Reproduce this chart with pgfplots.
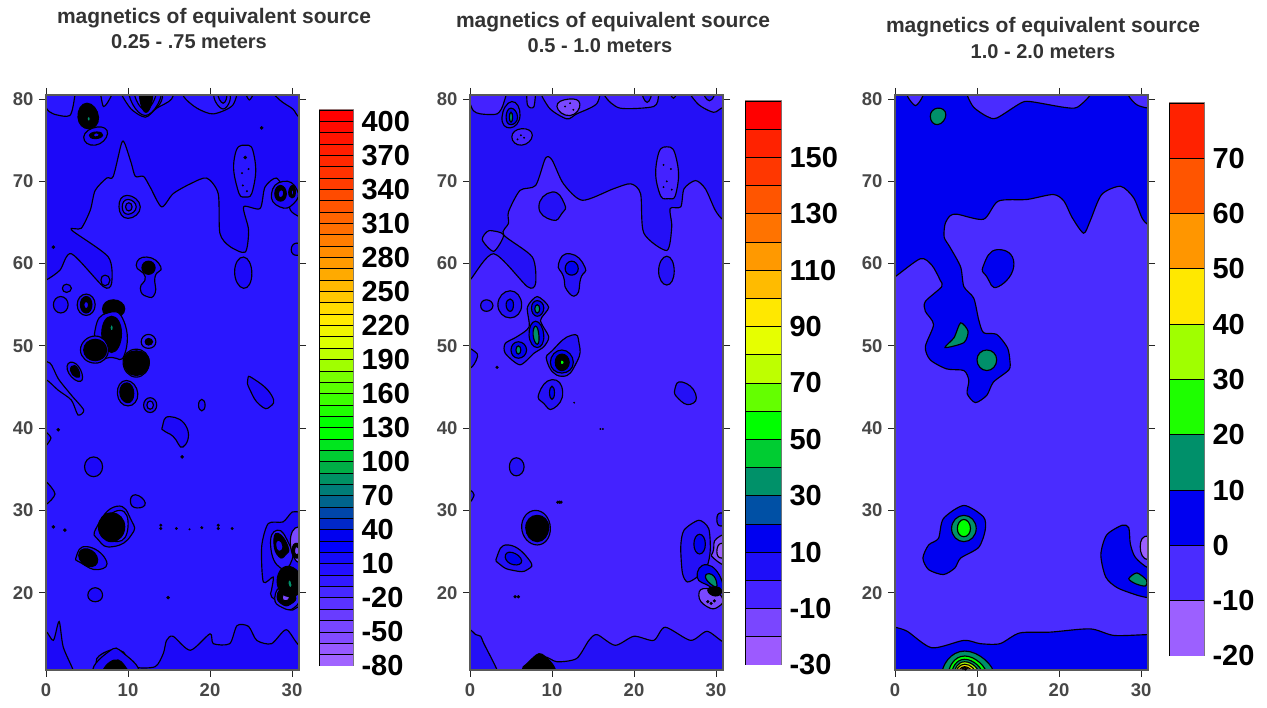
\documentclass[border=0pt]{standalone}
\usepackage{fontspec}
\setmainfont{Liberation Sans}
\usepackage{pgfplots}
\pgfplotsset{compat=1.18}
\definecolor{lav}{HTML}{9C60FF}
\definecolor{mid}{HTML}{7A48FF}
\definecolor{pureb}{HTML}{0000F0}
\definecolor{teal2}{HTML}{00906A}
\definecolor{grn}{HTML}{00FF00}
\definecolor{main3}{HTML}{4A2CFF}
\definecolor{main2}{HTML}{4422FF}
\definecolor{top2}{HTML}{2410F6}
\definecolor{main1}{HTML}{2A16FF}
\definecolor{top1}{HTML}{1C08F8}
\newcommand{\reg}[2]{\addplot[smooth cycle,tension=0.45,draw=black,line width=1.15pt,fill=#1] coordinates {#2};}
\newcommand{\blob}[2]{\addplot[smooth cycle,tension=1,draw=black,line width=1.15pt,fill=#1] coordinates {#2};}
\newcommand{\cb}[5]{\addplot[fill={rgb,255:red,#3;green,#4;blue,#5},draw=black,line width=0.9pt] coordinates {(0,#1)(1,#1)(1,#2)(0,#2)(0,#1)};}
\pgfplotsset{
 panel/.style={scale only axis,width=253pt,height=575pt,anchor=south west,
  xmin=0,xmax=30.85,ymin=10.6,ymax=80.5,
  xtick={0,10,20,30},xticklabels={0,10,20,30},
  ytick={20,30,40,50,60,70,80},yticklabels={20,30,40,50,60,70,80},
  tick align=outside,xtick pos=both,ytick pos=both,
  xticklabel pos=bottom,yticklabel pos=left,
  major tick length=7pt,
  every tick/.style={black!85,line width=0.9pt},
  axis line style={black!65,line width=1.2pt},
  xticklabel style={yshift=-3pt},yticklabel style={xshift=-2pt},
  ticklabel style={font=\fontsize{18.5}{18.5}\selectfont\bfseries,text=black!72},
  axis on top},
 bar/.style={scale only axis,anchor=south west,xmin=0,xmax=1,xtick=\empty,
  yticklabel pos=right,ytick pos=right,major tick length=0pt,
  axis line style={black!45,line width=1pt},
  yticklabel style={xshift=5pt},
  ticklabel style={font=\fontsize{29}{29}\selectfont\bfseries,text=black}},
 specks/.style={only marks,mark=*,mark size=#1,black,mark options={draw=black,fill=black}},
}
\begin{document}
\begin{tikzpicture}[x=1pt,y=1pt]
\path[use as bounding box] (0,0) rectangle (1267,708);
\begin{scope}[text=black!80]
\node[font=\fontsize{21}{21}\selectfont\bfseries] at (214,690) {magnetics of equivalent source};
\node[font=\fontsize{20}{20}\selectfont\bfseries] at (189,666) {0.25 - .75 meters};
\node[font=\fontsize{21}{21}\selectfont\bfseries] at (613,686) {magnetics of equivalent source};
\node[font=\fontsize{20}{20}\selectfont\bfseries] at (600,662) {0.5 - 1.0 meters};
\node[font=\fontsize{21}{21}\selectfont\bfseries] at (1043,681) {magnetics of equivalent source};
\node[font=\fontsize{20}{20}\selectfont\bfseries] at (1043,656) {1.0 - 2.0 meters};
\end{scope}

% ---------- panel 1
\begin{axis}[panel,at={(46pt,38pt)},axis background/.style={fill=top1}]
\reg{main1}{(-1,58)(0,58)(1.7,59.2)(3.1,61.2)(7,57.2)(8,57.6)(7.6,60.8)(3.1,64.1)(4.3,64.3)(5.4,66.5)(6,68.9)(7.4,70.4)(8.2,70.6)(9.2,74.6)(9.6,74.6)(10.4,72.2)(10.9,70.6)(11.9,70.6)(12.7,69.3)(14.1,66.9)(15.5,68.5)(17.6,69.7)(19.6,70.4)(21,68.5)(21.2,63.7)(22.4,62.1)(24.3,61.4)(24.7,64.1)(24.1,66.9)(26.1,66.7)(26.7,69.3)(28.1,70.4)(29.3,68.5)(29.8,66.5)(30.9,65.7)(33,65)(33,14)(30.9,13.6)(29.3,15.5)(27.5,13.8)(25.7,14.2)(24.7,15.9)(23.3,16)(22.4,13.8)(20.4,13.8)(20,15)(17.6,13)(15.5,14.7)(14.7,14.2)(14.3,12.6)(13.3,11)(10.7,11)(9.4,12.8)(7.8,13)(6.2,12)(6,9.5)(3.3,9.5)(3.3,10.6)(2.1,13.4)(1.6,16.5)(.9,14.2)(0,15.3)(-1,15)}
% top edge lobes
\reg{main1}{(-1,82)(0,79)(.9,78.2)(2.9,78)(3.5,80.3)(3.6,82)}
\reg{main1}{(6.6,82)(7,79.1)(8,80.5)(8.1,82)}
\reg{main1}{(9,82)(10.2,79)(12.1,77.8)(13.5,78.9)(15.3,80)(15.4,82)}
\reg{main1}{(16.7,82)(16.8,80.3)(18.4,78.9)(20.4,78.2)(22.8,79.3)(23,82)}
\reg{main1}{(24.1,81.5)(24.8,79.9)(25.6,81.5)}
\reg{main1}{(26.9,82)(28.5,79.9)(30.1,78.8)(30.9,77.8)(33,77.5)(33,82)}
\blob{top1}{(12.8,80.5)(13.2,78.9)(14.2,80.2)(13.5,81)}
% rings top
\blob{main1}{(20.5,80.6)(21.6,78.8)(22.4,80.6)}
\blob{top1}{(21,80.6)(21.6,79.5)(22,80.6)}
\blob{top1}{(10.2,81.5)(12.1,78)(14,81.5)}
\blob{main1}{(10.8,81.5)(12.1,78.7)(13.4,81.5)}
\blob{black}{(11.4,80.5)(12.2,78.4)(13,80.5)(12.2,81)}
\blob{black}{(3.9,77.8)(5,79.5)(6.4,77.8)(5.2,76.4)}
\blob{teal2}{(5,77.6)(5.2,77.9)(5.4,77.6)(5.2,77.3)}
\blob{top1}{(4.6,75.4)(6.2,76.6)(7.5,75.8)(6,74.4)}
\blob{black}{(5.3,75.6)(6.2,76)(6.9,75.6)(6,75.2)}
\blob{top1}{(5.8,75.7)(6.2,75.9)(6.5,75.6)(6,75.4)}
\blob{main1}{(23,73)(24.3,74.4)(25.4,73)(25.3,69.3)(24.3,68.1)(23.3,69.3)}
\blob{top1}{(8.9,66.9)(9.9,68.3)(11.5,66.9)(10,65.5)}
\blob{main1}{(9.3,66.9)(10,67.8)(11,66.9)(10,66)}
\blob{top1}{(9.7,66.9)(10.1,67.4)(10.5,66.9)(10.1,66.4)}
\blob{top1}{(27.5,68.5)(28.9,70)(30.6,69)(30.2,67.3)(28.5,66.9)}
\blob{black}{(27.9,68.5)(28.6,69.5)(29.3,68.5)(28.6,67.6)}
\blob{top1}{(28.3,68.5)(28.7,69)(29,68.5)(28.6,68)}
\blob{black}{(29.6,68.7)(30.1,69.5)(30.4,68.6)(30,68)}
\blob{top1}{(29.9,68.7)(30.1,69)(30.2,68.6)(30,68.3)}
\blob{top1}{(11,59.8)(12.3,60.8)(14,59.6)(13.3,58.4)(13.3,56.4)(12.3,56)(11.5,57)(12.1,58.4)}
\blob{black}{(11.7,59.5)(12.5,60.3)(13.3,59.5)(12.5,58.7)}
\blob{top1}{(23,59)(24.1,60.8)(25.1,58.8)(24.1,57)}
\blob{top1}{(29.9,61.7)(30.6,62.5)(31.5,61.7)(30.6,61)}
\blob{top1}{(6.7,58)(7.2,58.6)(7.8,58)(7.2,57.3)}
\blob{top1}{(2,57)(2.5,57.5)(3.1,57)(2.5,56.5)}
\blob{top1}{(.9,55)(1.8,56)(2.7,55)(1.8,54)}
\blob{top1}{(3.8,55)(4.9,56.3)(6,55)(4.9,53.7)}
\blob{black}{(4.2,55)(4.9,56)(5.6,55)(4.9,54)}
\blob{top1}{(4.6,55)(4.9,55.4)(5.2,55)(4.9,54.5)}
\blob{black}{(6.9,54.5)(8.2,55.6)(9.6,54.5)(8.2,53.4)}
\blob{top1}{(6,52)(7.5,54)(9.5,53)(9.6,49)(8,48.6)(6.5,49)}
\blob{black}{(6.8,51.5)(8,53.6)(9.2,51.5)(8,49.2)}
\blob{teal2}{(7.8,52.2)(8,52.6)(8.2,52.2)(8,51.8)}
\blob{top1}{(4.2,49.5)(6,51.2)(7.6,49.5)(6,47.9)}
\blob{black}{(4.6,49.5)(6,50.8)(7.4,49.5)(6,48.2)}
\blob{main1}{(11.6,50.5)(12.5,51.4)(13.4,50.5)(12.5,49.7)}
\blob{black}{(12.1,50.5)(12.5,50.9)(13,50.5)(12.5,50.1)}
\blob{top1}{(9.4,48)(11,49.6)(12.6,48)(11,46.2)}
\blob{black}{(9.5,48)(11,49.4)(12.6,48)(11,46.4)}
\reg{main1}{(-1,48)(.5,47.9)(1.5,46)(3.1,44)(4.6,42.2)(3.9,41.6)(3.1,43.4)(1.5,44.6)(0,45.9)(-1,45.5)}
\blob{top1}{(2.6,47.1)(3.3,48)(4.4,46.6)(3.9,45.7)}
\blob{black}{(3,47)(3.5,47.6)(4.1,46.6)(3.7,46.2)}
\blob{top1}{(8.7,44.2)(9.8,45.8)(11.2,44.2)(10,42.7)}
\blob{black}{(9,44.4)(9.9,45.5)(10.7,44.2)(9.9,43.1)}
\blob{top1}{(11.9,42.8)(12.7,43.7)(13.5,42.8)(12.7,41.9)}
\blob{main1}{(12.3,42.8)(12.7,43.3)(13.1,42.8)(12.7,42.3)}
\blob{top1}{(18.6,42.8)(19,43.5)(19.4,42.8)(19,42.1)}
\blob{top1}{(24.6,45.9)(25.3,46)(27.5,44)(27.3,42.6)(26.1,42.8)(24.9,44.6)}
\blob{top1}{(14.2,40.2)(15.1,41.4)(17.2,40)(16.7,37.7)(15.5,39)(14.5,39.6)}
\blob{top1}{(4.7,35.3)(5.8,36.5)(6.9,35.3)(5.8,34.1)}
\reg{top1}{(-1,33.5)(0,33.5)(1.1,32)(0,30.7)(-1,30.7)}
\reg{top1}{(-1,40)(.6,38.8)(-1,37)}
\blob{top1}{(10.3,31)(10.9,31.9)(12.1,30.9)(11.1,30.3)}
\blob{top1}{(6.2,28)(8.6,30.5)(10.4,28.8)(10.4,27)(8.2,25.6)(6.4,26.4)}
\blob{main1}{(7,28)(9,30)(10,28)(8.7,26.2)}
\blob{black}{(6.4,28)(8,29.7)(9.6,28)(8,26.2)}
\blob{top1}{(3.7,24.4)(5,25.6)(7.3,24)(6.4,22.8)(4.3,23.6)}
\blob{black}{(4,24.5)(5.1,25.3)(6.3,24)(5.2,23.2)}
\blob{top1}{(5.1,19.7)(6,20.6)(6.9,19.7)(6,18.9)}
% right clusters
\reg{top1}{(26.3,25.6)(27.1,28.4)(28.9,28.6)(30,29.8)(30.9,29.8)(33,30)(33,18)(30.9,18.3)(29.8,17.9)(27.5,19.5)(27.5,20.3)(27.7,21.9)(26.5,21.3)}
\blob{main1}{(27.4,25.6)(28.2,27.6)(29.6,26)(30,24)(28.6,23)}
\blob{black}{(27.8,26)(28.3,27.2)(29.5,25.6)(29.2,24.6)(28.4,24.4)}
\blob{top1}{(28,25.8)(28.4,26.4)(28.9,25.6)(28.4,25)}
\blob{mid}{(29.8,26)(30.8,28)(32,26)(31,23.6)}
\blob{black}{(30,25.2)(30.6,26)(31.2,25)(30.5,24.2)}
\blob{mid}{(30.3,25.2)(30.6,25.6)(30.9,25)(30.5,24.6)}
\blob{main1}{(27.9,19.4)(29,20.8)(30.8,19.8)(30.3,18.2)(28.8,18.2)}
\blob{black}{(28.2,19.6)(29,20.4)(30.4,19.6)(29.8,18.6)(28.8,18.6)}
\blob{mid}{(28.8,19.4)(29.2,19.9)(29.7,19.4)(29.2,19)}
\blob{black}{(28.2,21.2)(29.5,23.2)(31.3,21.2)(29.8,19.5)}
\blob{teal2}{(29.5,21.1)(29.7,21.6)(30,21)(29.8,20.6)}
% bottom dome
\blob{top1}{(6,10)(7.6,12.8)(9.5,12.6)(11,10)}
\blob{black}{(7,10)(8.3,11.8)(9.8,10.8)(9.6,10)}
% specks
\addplot[specks=1.6pt] coordinates {(.9,62)(26.3,76.5)(24.3,72.9)(3.7,47)(1.5,39.8)(16.6,36.5)(14.9,19.4)(.9,28)(2.3,27.6)};
\addplot[specks=1.3pt] coordinates {(14,27.8)(14,28.2)(21,27.8)(21,28.2)(15.9,27.8)(22.7,27.8)(19,27.9)};
\addplot[specks=0.8pt] coordinates {(17.5,27.7)(24,69.5)(23.9,71)(24.5,68.8)(24.7,71.5)};
\end{axis}

% bar 1
\begin{axis}[bar,at={(319pt,42pt)},width=34pt,height=556pt,ymin=-80,ymax=410,
 ytick={-80,-50,-20,10,40,70,100,130,160,190,220,250,280,310,340,370,400},
 yticklabels={-80,-50,-20,10,40,70,100,130,160,190,220,250,280,310,340,370,400}]
\cb{-80}{-70}{160}{100}{255}\cb{-70}{-60}{150}{90}{255}\cb{-60}{-50}{130}{75}{255}\cb{-50}{-40}{120}{70}{255}
\cb{-40}{-30}{105}{60}{255}\cb{-30}{-20}{90}{50}{255}\cb{-20}{-10}{70}{40}{255}\cb{-10}{0}{50}{25}{255}
\cb{0}{10}{35}{15}{255}\cb{10}{20}{20}{10}{250}\cb{20}{30}{0}{0}{255}\cb{30}{40}{0}{0}{240}
\cb{40}{50}{0}{40}{200}\cb{50}{60}{0}{70}{170}\cb{60}{70}{0}{100}{140}\cb{70}{80}{0}{125}{120}
\cb{80}{90}{0}{145}{100}\cb{90}{100}{0}{175}{70}\cb{100}{110}{0}{205}{50}\cb{110}{120}{0}{230}{30}
\cb{120}{130}{0}{255}{0}\cb{130}{140}{0}{255}{0}\cb{140}{150}{30}{255}{0}\cb{150}{160}{60}{255}{0}
\cb{160}{170}{90}{255}{0}\cb{170}{180}{120}{255}{0}\cb{180}{190}{160}{255}{0}\cb{190}{200}{190}{255}{0}
\cb{200}{210}{220}{255}{0}\cb{210}{220}{240}{245}{0}\cb{220}{230}{255}{235}{0}\cb{230}{240}{255}{220}{0}
\cb{240}{250}{255}{200}{0}\cb{250}{260}{255}{185}{0}\cb{260}{270}{255}{170}{0}\cb{270}{280}{255}{155}{0}
\cb{280}{290}{255}{140}{0}\cb{290}{300}{255}{125}{0}\cb{300}{310}{255}{110}{0}\cb{310}{320}{255}{100}{0}
\cb{320}{330}{255}{85}{0}\cb{330}{340}{255}{75}{0}\cb{340}{350}{255}{60}{0}\cb{350}{360}{255}{50}{0}
\cb{360}{370}{255}{40}{0}\cb{370}{380}{255}{30}{0}\cb{380}{390}{255}{20}{0}\cb{390}{400}{255}{10}{0}
\cb{400}{410}{255}{0}{0}
\end{axis}

% ---------- panel 2
\begin{axis}[panel,at={(470pt,38pt)},axis background/.style={fill=top2}]
\reg{main2}{(-1,57.5)(0,58)(2.9,61.2)(7,57.2)(8,57.6)(7.6,60.8)(4.1,63.5)(4.7,64.9)(4.7,66.3)(6.1,68.9)(8,69.5)(9.2,72.8)(10,72.6)(11.4,69.7)(13.7,67.7)(17.5,69.1)(19.6,69.7)(20.8,68.5)(21.2,63.7)(24,61.6)(24.6,64.5)(24.4,66.7)(25.7,66.9)(26.1,69.1)(27.5,70.1)(28.7,69.1)(29.9,66.5)(30.9,65.3)(33,64.5)(33,13.5)(30.9,14)(28.9,15.3)(26.9,14.2)(23.8,15.8)(22.4,14.2)(20,14.7)(17.7,13.6)(15.5,14.9)(14.5,14.2)(13,12)(10.6,11.6)(9,12.2)(6.5,11)(6.3,9.5)(3.3,9.5)(3.3,10.6)(1.7,13.8)(1.3,14.7)(.7,14.9)(0,15.5)(-1,15.5)}
\reg{main2}{(1.5,62.9)(2.3,64)(4.1,63.5)(2.9,61.5)}
\reg{main2}{(-1,82)(-.2,80)(.4,78.6)(1.3,78.2)(3.3,78.2)(4.1,79.5)(4.3,82)}
\reg{main2}{(7,82)(7,79.3)(7.8,79.1)(8,82)}
\reg{main2}{(8.6,82)(9.6,79)(11.8,77.6)(13,78.2)(15.5,79.5)(15.4,82)}
\reg{main2}{(16.4,82)(16.5,80.3)(18.3,78.9)(22.4,79.1)(23,80.5)(23,82)}
\reg{main2}{(24.1,81.5)(24.8,80.1)(25.6,81.5)}
\reg{main2}{(26.5,82)(27.7,79.5)(29.7,78.4)(30.9,79)(33,79)(33,82)}
\blob{mid}{(10.6,79.1)(12,80)(13.4,79.4)(12.2,78)}
\blob{top2}{(21,81)(21.6,79.6)(22.1,81)}
\blob{top2}{(28.5,81)(29.2,79.8)(29.8,81)}
\blob{main2}{(22.8,72.6)(24,74.2)(25.2,72.6)(25.2,68.9)(24.2,67.9)(23,68.9)}
\blob{main2}{(5.1,75.4)(6.3,76.4)(7.6,75.6)(6.3,74.4)}
\blob{top2}{(3.9,77.8)(5.1,79.7)(6.1,78)(4.9,76.5)}
\blob{pureb}{(4.4,77.8)(5,78.9)(5.8,77.8)(5,76.9)}
\blob{teal2}{(4.8,77.8)(5,78.4)(5.2,77.8)(5,77.2)}
\blob{top2}{(8.4,66.9)(10,68.7)(11.5,67.3)(11.2,66.1)(10,65.3)}
\blob{top2}{(10.8,60)(12.2,61.2)(14,59.6)(13.5,58.2)(13,56.2)(11.8,56.8)(11.4,58.4)}
\blob{pureb}{(11.6,59.4)(12.4,60.3)(13.2,59.4)(12.4,58.6)}
\blob{top2}{(23,59.1)(24,60.9)(24.9,59.1)(24,57.4)}
\blob{top2}{(3.4,55)(4.9,56.7)(6.3,55)(4.9,53.4)}
\blob{pureb}{(4.4,55)(4.9,55.7)(5.3,55)(4.9,54.2)}
\blob{top2}{(1.3,54.9)(2,55.6)(2.8,54.9)(2,54.2)}
\reg{top2}{(7,54.7)(8.2,56)(9.6,54.7)(8.6,53.1)(9.6,51.1)(9,49.9)(7.8,49.1)(6.1,47.7)(4.3,49.1)(4.3,50.3)(5.7,51.1)(7.2,52.3)}
\blob{pureb}{(7.5,54.6)(8.2,55.5)(9,54.6)(8.2,53.6)}
\blob{teal2}{(7.9,54.5)(8.2,55)(8.5,54.5)(8.2,54)}
\blob{pureb}{(7.2,51.3)(8,53)(9,51.3)(8.2,49.8)}
\blob{teal2}{(7.7,51.3)(8,52.4)(8.4,51.3)(8.2,50.2)}
\blob{pureb}{(5,49.5)(5.9,50.5)(6.9,49.5)(5.9,48.5)}
\blob{teal2}{(5.6,49.5)(5.9,50)(6.2,49.5)(5.9,49)}
\blob{top2}{(9.4,48.1)(10.2,49.6)(12.4,51.3)(13.3,50.3)(13,48)(11.2,46.3)}
\blob{pureb}{(9.8,48)(11.2,49.5)(12.6,48)(11.2,46.7)}
\blob{black}{(10.4,48)(11.2,49)(12.1,48)(11.2,47)}
\blob{grn}{(11,48)(11.2,48.3)(11.5,48)(11.2,47.7)}
\blob{top2}{(8.4,44.2)(10,45.9)(11.3,44.4)(10.2,42.4)(9,43)}
\blob{pureb}{(9.7,44.3)(10,45.1)(10.3,44.3)(10,43.5)}
\blob{top2}{(25,44.8)(25.9,45.6)(27.5,44.2)(26.9,42.9)(25.4,43.6)}
\blob{top2}{(4.8,35.3)(5.65,36.4)(6.6,35.3)(5.65,34.2)}
\reg{top2}{(-1,32.5)(0,32.5)(.5,31.9)(0,31)(-1,31)}
\reg{top2}{(-1,50)(.9,49)(.3,47.5)(-1,47)}
\blob{top2}{(6.3,27.9)(8,30)(9.8,27.9)(8.2,25.8)}
\blob{black}{(6.8,27.9)(8.2,29.4)(9.6,27.9)(8.2,26.2)}
\blob{top2}{(3.3,24.4)(4.7,25.8)(7.2,24)(7,22.8)(5.3,22.7)(3.7,23.4)}
\blob{pureb}{(4.3,24.3)(5.1,24.9)(6.3,23.9)(5.3,23.4)}
\reg{top2}{(25.7,25.6)(26.1,27.6)(27.9,28.8)(29.1,27.8)(29.3,25.2)(28.9,23.2)(27.7,21.9)(26.5,21.3)(25.9,22.4)}
\blob{pureb}{(27.3,25.9)(28,27.1)(28.7,25.9)(28,24.7)}
\blob{pureb}{(27.7,21.9)(28.9,23.4)(30.7,21.5)(30.3,19.9)(29.3,20.7)}
\blob{teal2}{(28.7,21.9)(29.5,22.2)(30.1,21.1)(29.7,20.8)}
\blob{mid}{(27.9,19.7)(28.9,20.5)(30.7,19.5)(30.3,18.3)(28.9,18.3)}
\blob{black}{(29,20.3)(29.9,20.7)(30.7,20.2)(29.9,19.6)}
\blob{mid}{(29.7,25.2)(30.1,26.6)(31.6,26.6)(31.6,23.6)(29.7,24.2)}
\blob{lav}{(30.1,25)(30.7,26)(31.6,25)(30.7,24.2)}
\blob{top2}{(30.1,28.9)(30.6,29.7)(31.5,28.9)(30.6,28.1)}
\blob{black}{(6.6,9.8)(7.6,12)(9.2,12.2)(10.2,9.8)}
\addplot[specks=1.4pt] coordinates {(10.9,31)(10.7,31)(11.1,31)(5.5,19.5)(5.9,19.5)(3.3,47.4)(29,18.9)(29.8,19)(29.4,18.7)};
\addplot[specks=0.7pt] coordinates {(12.7,43.1)(15.9,39.9)(16.2,39.9)(11.6,79.1)(12.2,79.5)(12.6,78.7)(23.6,72)(24.5,71.5)(24,70)(24.6,69)(23.6,69.3)(6.2,75.6)(6.6,75.3)(5.8,75.1)};
\end{axis}

% bar 2
\begin{axis}[bar,at={(745pt,43pt)},width=36pt,height=564pt,ymin=-30,ymax=170,
 ytick={-30,-10,10,30,50,70,90,110,130,150},yticklabels={-30,-10,10,30,50,70,90,110,130,150}]
\cb{-30}{-20}{156}{90}{255}\cb{-20}{-10}{122}{70}{255}\cb{-10}{0}{68}{34}{255}\cb{0}{10}{30}{14}{248}
\cb{10}{20}{0}{0}{240}\cb{20}{30}{0}{80}{165}\cb{30}{40}{0}{145}{105}\cb{40}{50}{0}{204}{50}
\cb{50}{60}{0}{255}{0}\cb{60}{70}{100}{255}{0}\cb{70}{80}{190}{255}{0}\cb{80}{90}{230}{255}{0}
\cb{90}{100}{255}{232}{0}\cb{100}{110}{255}{187}{0}\cb{110}{120}{255}{153}{0}\cb{120}{130}{255}{115}{0}
\cb{130}{140}{255}{85}{0}\cb{140}{150}{255}{55}{0}\cb{150}{160}{255}{34}{0}\cb{160}{170}{255}{0}{0}
\end{axis}

% ---------- panel 3
\begin{axis}[panel,at={(895pt,38pt)},axis background/.style={fill=pureb}]
\reg{main3}{(-1,58)(0,58.4)(3.1,60.6)(4.5,59.8)(5.5,58)(5.7,57.2)(3.7,55.4)(3.7,54.2)(4.7,52.6)(3.7,49.9)(4.3,48.3)(6.3,47.2)(8.4,47)(9,45.8)(8.8,44.2)(9.8,43.1)(11.2,44)(12,45.6)(13.9,47.1)(14,48.3)(13.7,49.8)(12.4,51.4)(10.8,51.6)(10.2,53.2)(9.6,55.8)(8.4,57.2)(8,59.6)(6.7,62)(6,63.2)(6.1,64.8)(6.7,65.8)(7.6,66)(10.8,65.4)(12.6,67.6)(16.1,67.8)(19.3,68.4)(20.6,67.6)(21.6,65.6)(23,63.7)(23.8,65.2)(25.2,68.4)(27.5,69.4)(29.1,68)(30.1,65.6)(30.9,64.7)(33,64)(33,14.8)(30.9,14.9)(26.7,14.8)(23.8,15.6)(18.9,15.2)(15.2,15.1)(12.8,13.8)(10.4,13.8)(8.4,14.2)(4.5,13.3)(1.5,15.3)(0,15.8)(-1,16)}
\reg{main3}{(8.6,82)(8.8,80.5)(9.6,79)(11.2,77.9)(12.4,77.7)(15.3,79.5)(16.5,79.7)(20.6,79)(22.2,79)(23.8,80.5)(24,82)}
\reg{main3}{(1.4,82)(1.5,80.4)(2.5,79.2)(3.4,80.4)(3.5,82)}
\reg{main3}{(28.3,82)(28.5,80.4)(29.5,79.3)(30.9,78.9)(33,78.8)(33,82)}
\blob{pureb}{(10.8,59.8)(12.5,61.7)(14.5,60)(12.6,57.2)(11.2,58.4)}
\blob{teal2}{(4.3,77.9)(5.2,78.9)(6.2,78.1)(5.2,76.9)}
\reg{teal2}{(6.1,49.8)(7.2,51)(8,52.8)(8.9,51.8)(8.4,50.4)}
\blob{teal2}{(10,48.3)(11.2,49.5)(12.4,48.3)(11.2,47)}
\reg{pureb}{(5.3,26.6)(5.9,29)(8.4,30.6)(10.8,29.2)(11,27.6)(10.2,25.5)(8,24.2)(7.3,23)(5.9,22.2)(4.1,22.8)(3.4,24.2)(4.1,25.8)}
\blob{teal2}{(6.9,27.8)(8.4,29.4)(9.9,27.8)(8.4,26.2)}
\blob{grn}{(7.6,27.8)(8.4,28.9)(9.2,27.8)(8.4,26.8)}
\reg{pureb}{(25.1,24.6)(25.8,27)(27.7,28.2)(28.5,27.9)(28.7,25.9)(29.3,24.3)(30.9,23)(33,23)(33,19.4)(30.9,19.4)(29.5,19.7)(27.1,20.6)(25.7,21.9)}
\reg{teal2}{(28.5,21.7)(29.5,22.4)(30.7,21.5)(30.5,20.8)(29.3,21.1)}
\blob{lav}{(29.9,25.6)(30.9,26.9)(32.5,25.5)(30.9,24)}
% bottom dome rings
\blob{teal2}{(5.7,10)(8.5,12.9)(12.1,10)(8.5,9)}
\blob{grn}{(6.5,10)(8.5,12.3)(11.2,10)(8.5,9)}
\blob{teal2}{(6.9,10)(8.5,11.9)(10.7,10)(8.5,9)}
\blob{{rgb,255:red,170;green,255;blue,0}}{(7.2,10)(8.5,11.6)(10.3,10)(8.5,9)}
\blob{{rgb,255:red,255;green,232;blue,0}}{(7.4,10)(8.5,11.3)(9.9,10)(8.5,9)}
\blob{{rgb,255:red,255;green,150;blue,0}}{(7.7,10)(8.5,11)(9.5,10)(8.5,9)}
\blob{{rgb,255:red,255;green,40;blue,0}}{(8,10)(8.5,10.9)(9.1,10)(8.5,9)}
\addplot[specks=1.2pt] coordinates {(8.3,10.8)(8.6,10.7)};
\end{axis}

% bar 3
\begin{axis}[bar,at={(1169pt,52pt)},width=35pt,height=553pt,ymin=-20,ymax=80,
 ytick={-20,-10,0,10,20,30,40,50,60,70},yticklabels={-20,-10,0,10,20,30,40,50,60,70}]
\cb{-20}{-10}{156}{96}{255}\cb{-10}{0}{74}{44}{255}\cb{0}{10}{0}{0}{240}\cb{10}{20}{0}{144}{106}
\cb{20}{30}{30}{255}{0}\cb{30}{40}{160}{255}{0}\cb{40}{50}{255}{232}{0}\cb{50}{60}{255}{150}{0}
\cb{60}{70}{255}{85}{0}\cb{70}{80}{255}{34}{0}
\end{axis}
\end{tikzpicture}
\end{document}
